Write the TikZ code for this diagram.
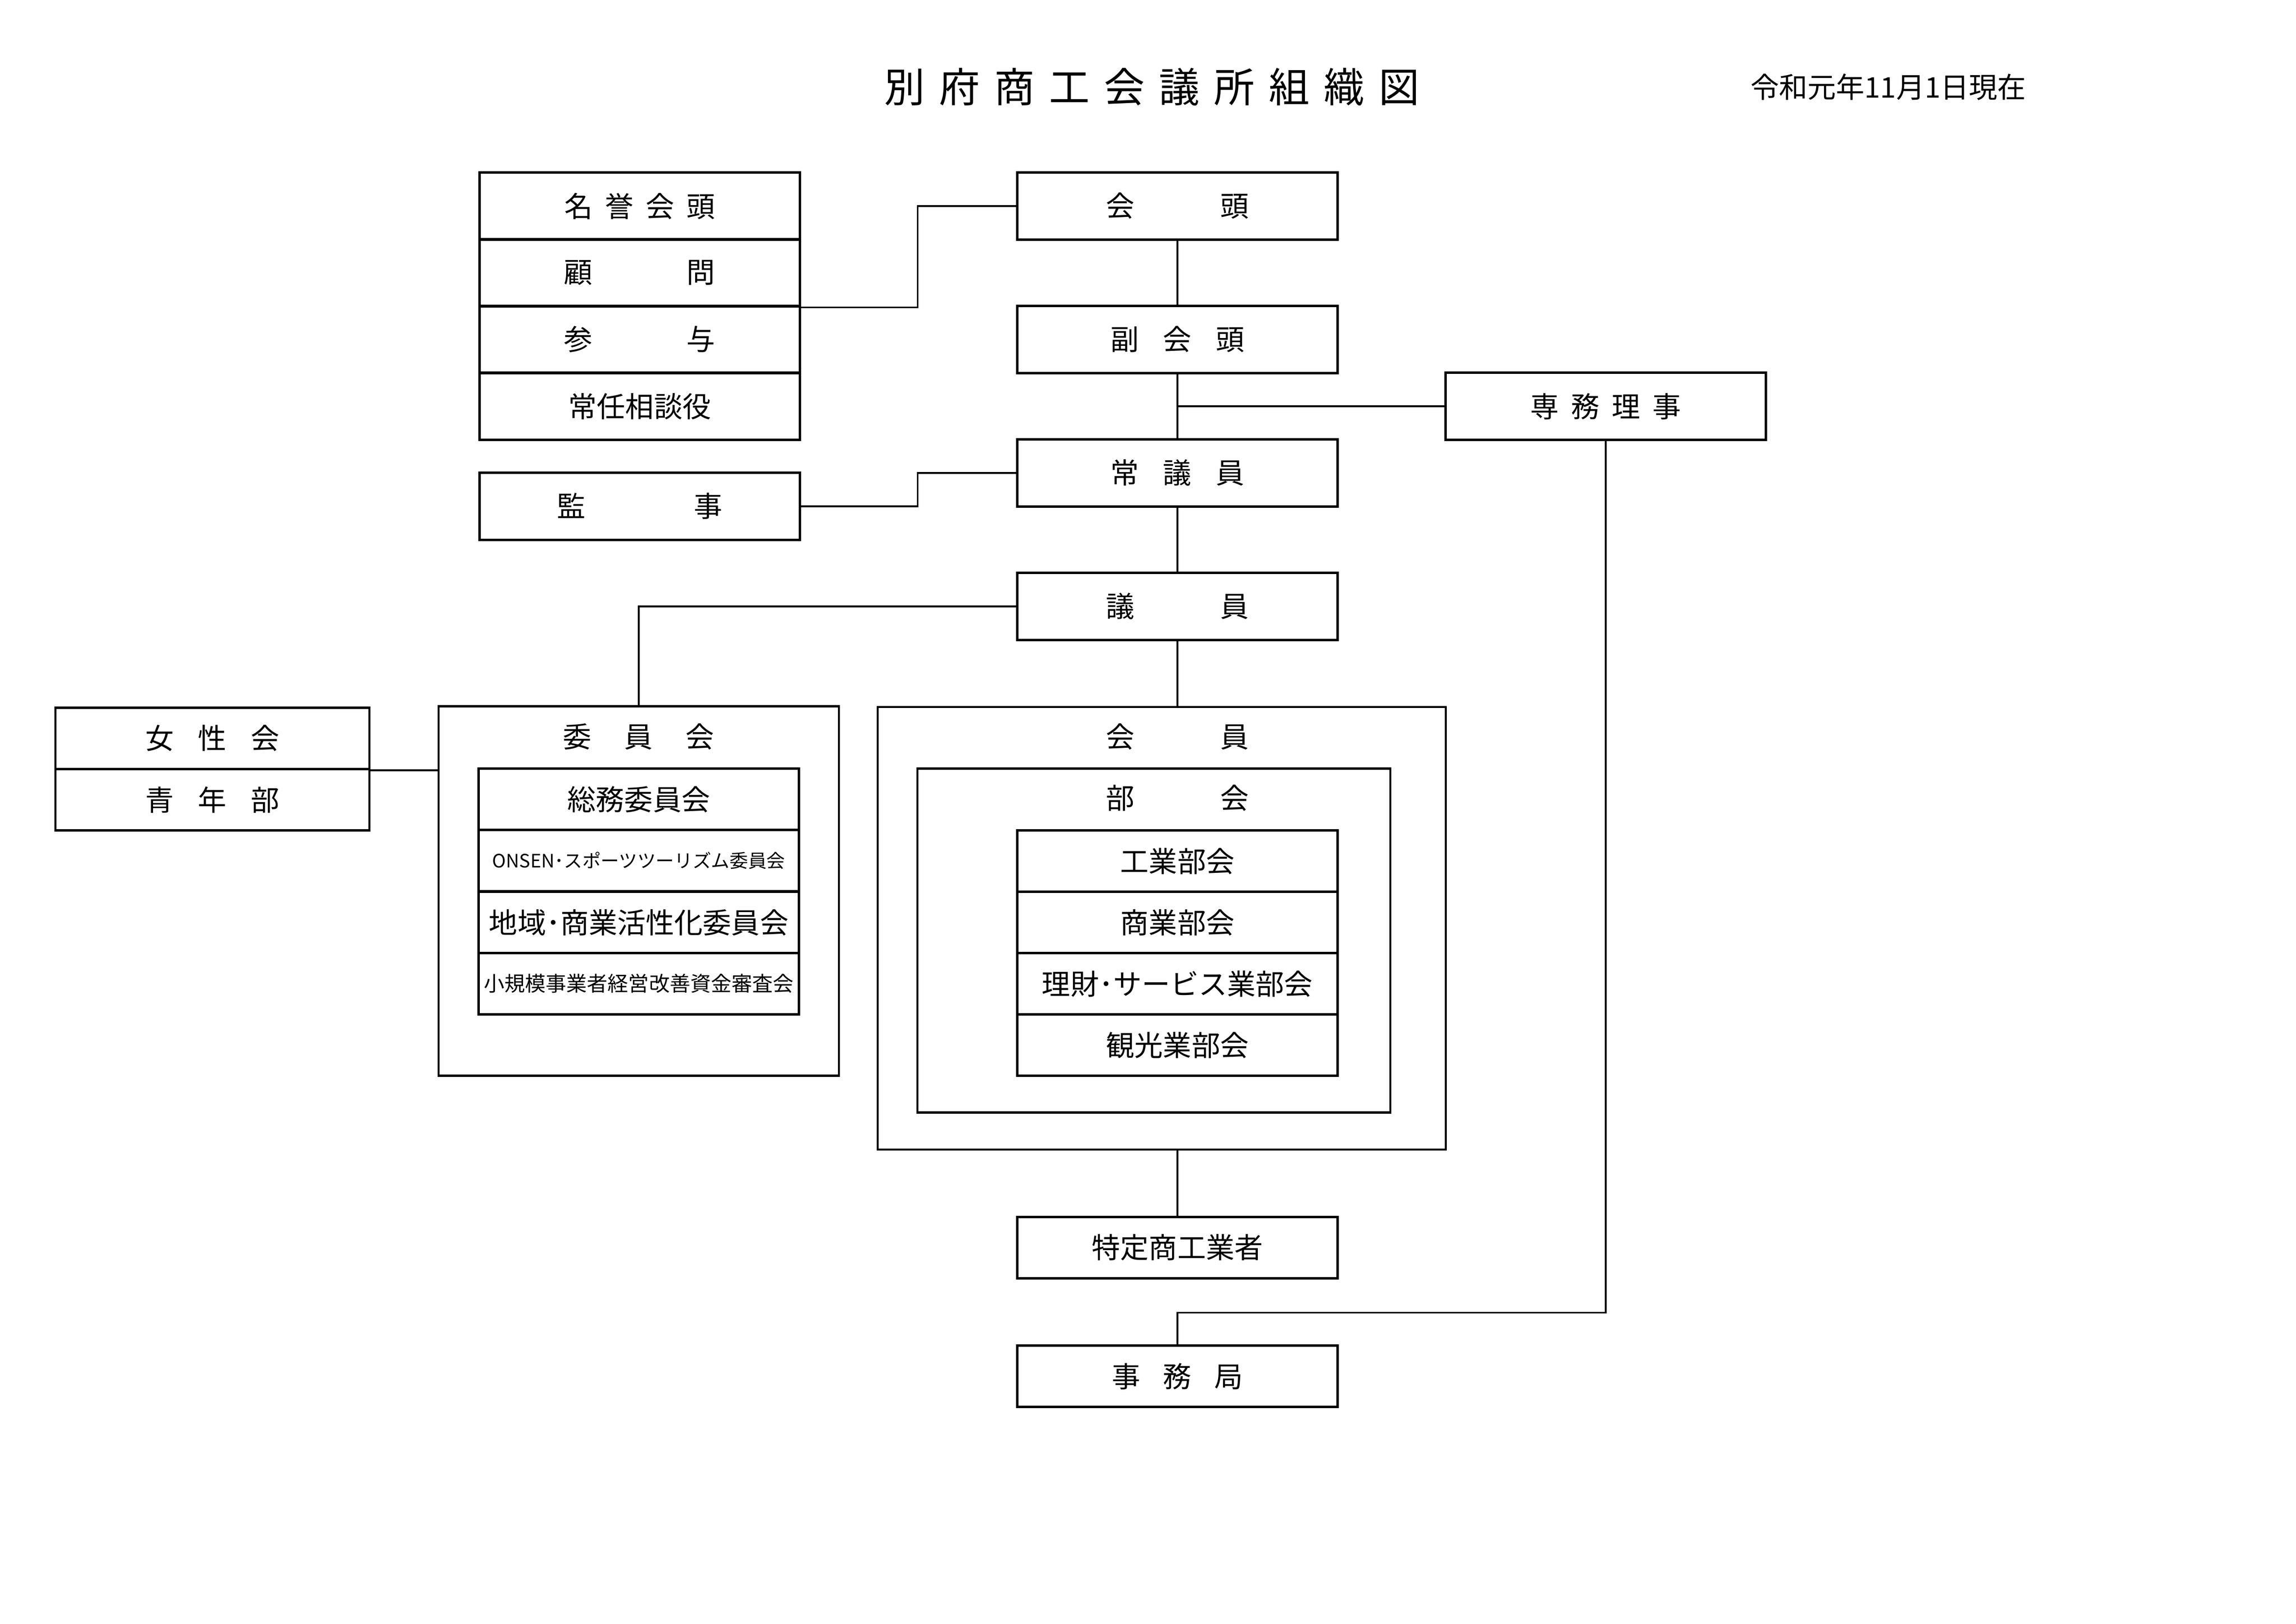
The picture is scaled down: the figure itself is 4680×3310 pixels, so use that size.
\documentclass[tikz,border=0pt]{standalone}
\usepackage{fontspec}
\setmainfont{Noto Sans CJK JP}
\tikzset{every picture/.style={line width=0.75pt}}
\newcommand{\sk}[1]{\hspace{#1em}}

\begin{document}
\begin{tikzpicture}[x=0.18bp,y=0.18bp,yscale=-1,xscale=1,
	box/.style={draw, line width=0.8bp, inner sep=0pt, minimum width=117.5bp, minimum height=24.6bp, font=\fontsize{10.5}{12}\selectfont},
	row/.style={box, minimum height=22.5bp},
	frame/.style={draw, line width=0.8bp, inner sep=0pt},
	caption/.style={inner sep=0pt, font=\fontsize{10.5}{12}\selectfont},
	link/.style={line width=0.65bp}]
	\useasboundingbox (0,0) rectangle (4680,3310);

	% Text Node
	\node[inner sep=0pt, font=\fontsize{15}{18}\selectfont] (title) at (2348,177) {別\sk{.35}府\sk{.35}商\sk{.35}工\sk{.35}会\sk{.35}議\sk{.35}所\sk{.35}組\sk{.35}織\sk{.35}図};
	% Text Node
	\node[caption] (date) at (3849,177) {令和元年11月1日現在};

	%Shape: Rectangle
	\node[box] (meiyo) at (1304,420) {名\sk{.43}誉\sk{.43}会\sk{.43}頭};
	\node[box] (komon) at (1304,556) {顧\sk{3.3}問};
	\node[box] (sanyo) at (1304,692) {参\sk{3.3}与};
	\node[box] (jonin) at (1304,828) {常任相談役};
	\node[box] (kanji) at (1304,1032) {監\sk{3.8}事};

	%Shape: Rectangle
	\node[box] (kaito) at (2400,420) {会\sk{3}頭};
	\node[box] (fuku) at (2400,692) {副\sk{.85}会\sk{.85}頭};
	\node[box] (senmu) at (3273,828) {専\sk{.43}務\sk{.43}理\sk{.43}事};
	\node[box] (jogiin) at (2400,964) {常\sk{.85}議\sk{.85}員};
	\node[box] (giin) at (2400,1236) {議\sk{3}員};

	%Shape: Rectangle
	\node[row, minimum width=115.2bp] (josei) at (433,1505) {女\sk{.85}性\sk{.85}会};
	\node[row, minimum width=115.2bp] (seinen) at (433,1630) {青\sk{.85}年\sk{.85}部};

	%Shape: Rectangle
	\node[frame, minimum width=146.9bp, minimum height=135.5bp] (iinkai) at (1302,1816) {};
	% Text Node
	\node[caption] (iinkaitxt) at (1302,1502) {委\sk{1.15}員\sk{1.15}会};
	\node[row] (somu) at (1302,1629) {総務委員会};
	\node[row, font=\fontsize{6.8}{8}\selectfont] (onsen) at (1302,1754) {ONSEN･スポーツツーリズム委員会};
	\node[row] (chiiki) at (1302,1880) {地域･商業活性化委員会};
	\node[row, font=\fontsize{7.6}{9}\selectfont] (shokibo) at (1302,2005) {小規模事業者経営改善資金審査会};

	%Shape: Rectangle
	\node[frame, minimum width=208.4bp, minimum height=162.4bp] (kaiin) at (2368,1892) {};
	% Text Node
	\node[caption] (kaiintxt) at (2400,1502) {会\sk{3}員};
	%Shape: Rectangle
	\node[frame, minimum width=173.5bp, minimum height=126.2bp] (bukai) at (2352,1917) {};
	% Text Node
	\node[caption] (bukaitxt) at (2400,1627) {部\sk{3}会};
	\node[row] (kogyo) at (2400,1755) {工業部会};
	\node[row] (shogyo) at (2400,1880) {商業部会};
	\node[row] (rizai) at (2400,2005) {理財･サービス業部会};
	\node[row] (kanko) at (2400,2130) {観光業部会};

	%Shape: Rectangle
	\node[row] (tokutei) at (2400,2543) {特定商工業者};
	\node[row] (jimu) at (2400,2805) {事\sk{.8}務\sk{.8}局};

	%Straight Lines
	\draw[link] (komon.south east) -- ++(238,0) |- (kaito.west);
	\draw[link] (kanji.east) -- ++(238,0) |- (jogiin.west);
	\draw[link] (kaito.south) -- (fuku.north);
	\draw[link] (fuku.south) -- (jogiin.north);
	\draw[link] (senmu.west) -- (senmu.west -| fuku.south);
	\draw[link] (jogiin.south) -- (giin.north);
	\draw[link] (giin.west) -| (iinkai.north);
	\draw[link] (giin.south) -- (giin.south |- kaiin.north);
	\draw[link] (josei.south east) -- (josei.south east -| iinkai.west);
	\draw[link] (tokutei.north |- kaiin.south) -- (tokutei.north);
	\draw[link] (senmu.south) -- ++(0,1777) -| (jimu.north);

\end{tikzpicture}
\end{document}
